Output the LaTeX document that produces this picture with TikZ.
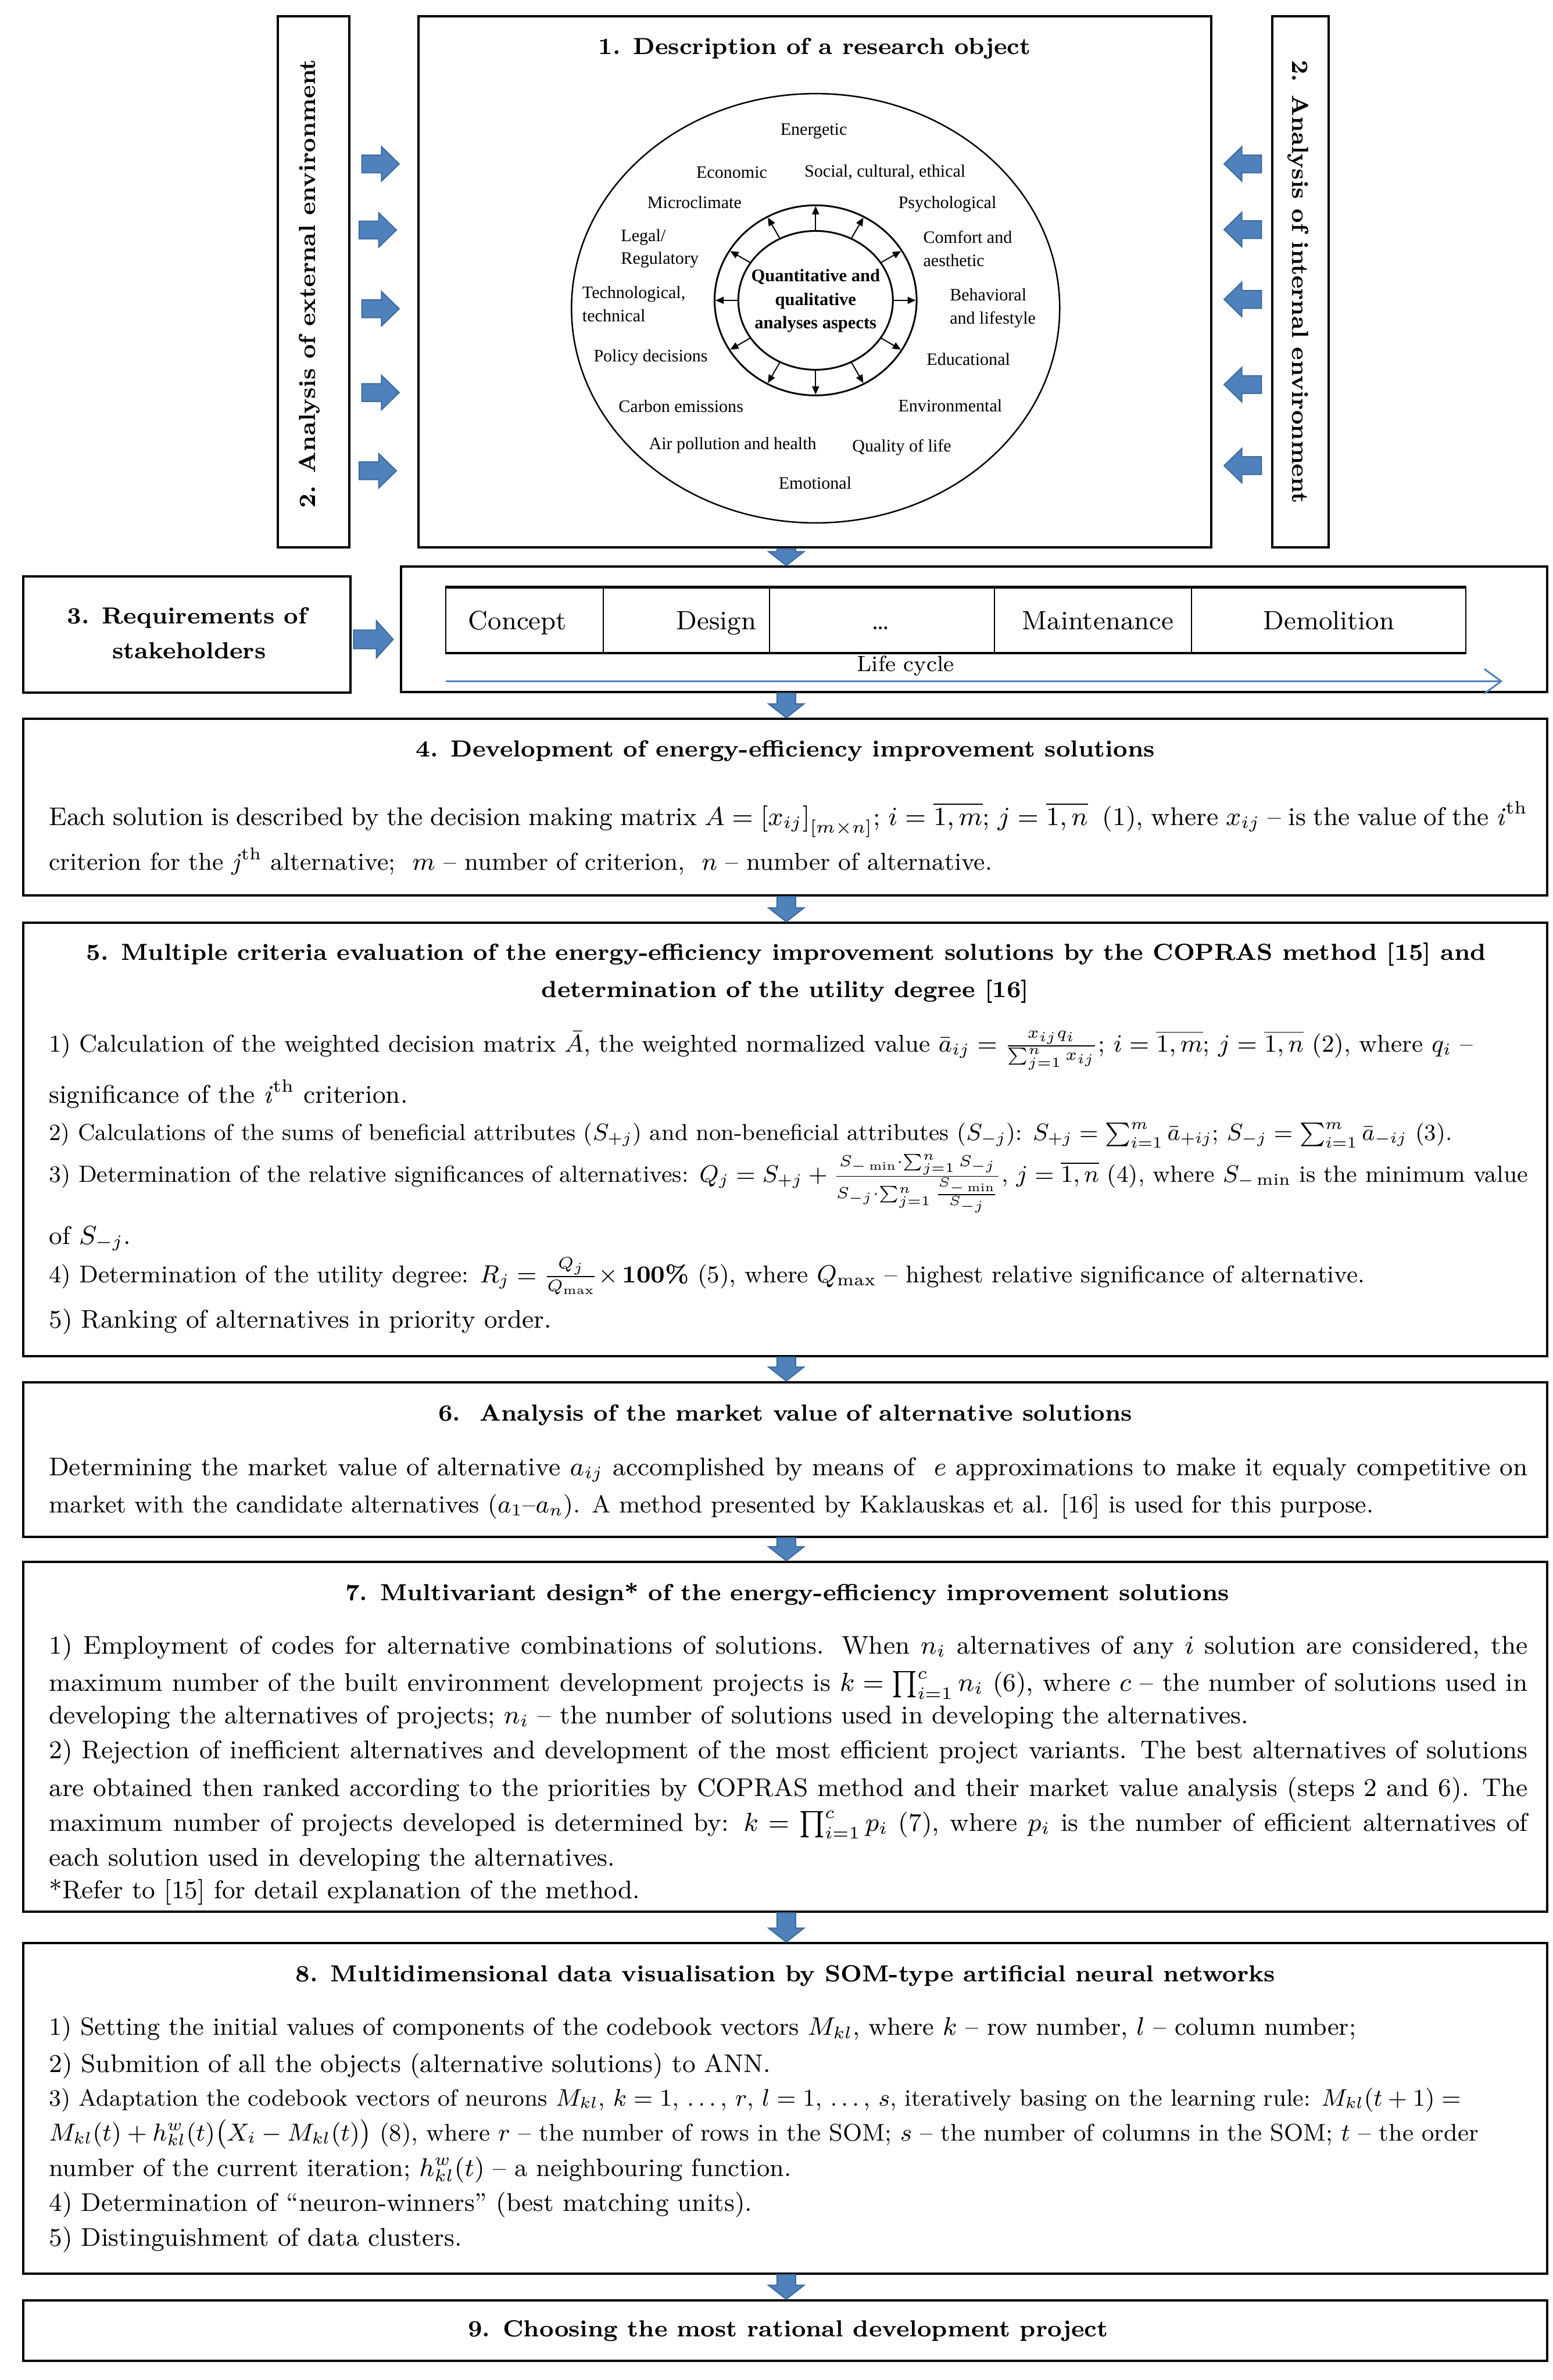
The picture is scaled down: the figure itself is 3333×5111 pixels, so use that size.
\documentclass[tikz,border=0pt]{standalone}
\usepackage{amsmath}
\usepackage{graphicx}
\usepackage{fontspec}
\newfontfamily\tnr{Liberation Serif}
\usetikzlibrary{arrows.meta,fit,calc,shapes.geometric}
\definecolor{ablue}{HTML}{4F81BD}
\definecolor{ablued}{HTML}{3C6A9E}
\newcommand\bodyf{\fontsize{8.8}{10.5}\selectfont}
\newcommand\titf{\fontsize{8}{10}\selectfont\bfseries}
\newcommand\lblf{\tnr\fontsize{6}{7.9}\selectfont}
\newcommand\jl[1]{\makebox[508pt][s]{#1}}
\newcommand\fitw[2]{\resizebox{#1}{!}{#2}}
\newcommand\blkR[3]{\filldraw[blk] (#1,#3-19) -- (#2-38,#3-19) -- (#2-38,#3-37) -- (#2,#3) -- (#2-38,#3+37) -- (#2-38,#3+19) -- (#1,#3+19) -- cycle;}
\newcommand\blkL[3]{\filldraw[blk] (#1,#3-19) -- (#2+38,#3-19) -- (#2+38,#3-37) -- (#2,#3) -- (#2+38,#3+37) -- (#2+38,#3+19) -- (#1,#3+19) -- cycle;}
\newcommand\blkD[2]{\filldraw[blk] let \p1=(colx |- #1.south), \p2=(colx |- #2.north) in (\x1-3.2pt,\y1) -- (\x1-3.2pt,\y2+4.8pt) -- (\x1-6.1pt,\y2+4.8pt) -- (\x2,\y2) -- (\x1+6.1pt,\y2+4.8pt) -- (\x1+3.2pt,\y2+4.8pt) -- (\x1+3.2pt,\y1) -- cycle;}
\begin{document}
\begin{tikzpicture}[x=0.16pt,y=-0.16pt,
  box/.style={draw, line width=0.8pt, inner sep=0pt},
  cellb/.style={draw, line width=0.4pt, inner sep=0pt},
  blk/.style={fill=ablue, draw=ablued, line width=0.4pt},
  tl/.style={anchor=base west, inner sep=0pt, font=\bodyf},
  tt/.style={anchor=base, inner sep=0pt, font=\titf},
  vt/.style={inner sep=0pt, font=\titf},
  lbl/.style={inner sep=0pt, font=\lblf},
  lbll/.style={inner sep=0pt, font=\lblf, align=left, anchor=west},
  lcf/.style={anchor=base, inner sep=0pt, font=\fontsize{9.1}{11}\selectfont}]
\useasboundingbox (0,0) rectangle (3333,5111);
\fill[white] (0,0) rectangle (3333,5111);
\coordinate (colx) at (1688,0);

% ---------- top section ----------
\node[box, fit={(597,35) (750,1176)}] (ext) {};
\node[box, fit={(898,35) (2600,1176)}] (b1) {};
\node[box, fit={(2732,35) (2853,1176)}] (int) {};
\node[vt, rotate=90] (vte) at (665,609) {2. Analysis of external environment};
\node[vt, rotate=-90] (vti) at (2787,605) {2. Analysis of internal environment};
\node[tt] (t1) at (1749,117) {1. Description of a research object};

\blkR{777}{857}{352}
\blkR{771}{851}{494}
\blkR{777}{857}{663}
\blkR{777}{857}{843}
\blkR{771}{851}{1011}
\blkL{2708}{2628}{352}
\blkL{2708}{2628}{493}
\blkL{2708}{2628}{643}
\blkL{2708}{2628}{826}
\blkL{2708}{2628}{1000}

% circle diagram
\node[ellipse, draw, line width=0.5pt, minimum width=167.7pt, minimum height=147.5pt, inner sep=0pt] (big) at (1751,662) {};
\node[ellipse, draw, line width=0.6pt, minimum width=69.4pt, minimum height=65.3pt, inner sep=0pt] (ann) at (1751,645) {};
\node[ellipse, draw, line width=0.6pt, minimum width=53.1pt, minimum height=47.7pt, inner sep=0pt] (inn) at (1751,645) {};
\foreach \a in {0,30,...,330}
  \draw[line width=0.4pt, shorten >=0.6pt, -{Triangle[length=2.8pt 0 0, width=2.4pt 0 0]}] (inn.\a) -- (ann.\a);
\node[inner sep=0pt, align=center, font=\tnr\fontsize{6.1}{8}\selectfont\bfseries] (ctr) at (1751,646) {Quantitative and\\qualitative\\analyses aspects};
\node[lbl] (e1) at (1747,282) {Energetic};
\node[lbl] (e2) at (1571,370) {Economic};
\node[lbl] (e3) at (1900,370) {Social, cultural, ethical};
\node[lbl] (e4) at (1491,434) {Microclimate};
\node[lbl] (e5) at (2034,439) {Psychological};
\node[lbll] (e6) at (1332,534) {Legal/\\Regulatory};
\node[lbll] (e7) at (1981,534) {Comfort and\\aesthetic};
\node[lbll] (e8) at (1249,653) {Technological,\\technical};
\node[lbll] (e9) at (2038,662) {Behavioral\\and lifestyle};
\node[lbl] (e10) at (1397,768) {Policy decisions};
\node[lbl] (e11) at (2079,771) {Educational};
\node[lbl] (e12) at (1462,873) {Carbon emissions};
\node[lbl] (e13) at (2040,871) {Environmental};
\node[lbl] (e14) at (1573,956) {Air pollution and health};
\node[lbl] (e15) at (1936,961) {Quality of life};
\node[lbl] (e16) at (1750,1037) {Emotional};

% ---------- stakeholders / life cycle ----------
\node[box, fit={(50,1238) (752,1487)}] (b3) {};
\node[tt] (t3a) at (402,1339) {3. Requirements of};
\node[tt] (t3b) at (406,1415) {stakeholders};
\node[box, fit={(861,1217) (3322,1486)}] (lc) {};
\filldraw[blk] (759,1353) -- (808,1353) -- (808,1333) -- (844,1373) -- (808,1413) -- (808,1393) -- (759,1393) -- cycle;

\node[cellb, fit={(957,1262) (1295,1401)}] (c1) {};
\node[cellb, fit={(1295,1262) (1652,1401)}] (c2) {};
\node[cellb, fit={(1652,1262) (2135,1401)}] (c3) {};
\node[cellb, fit={(2135,1262) (2558,1401)}] (c4) {};
\node[cellb, fit={(2558,1262) (3147,1401)}] (c5) {};
\draw[line width=0.9pt] (c1.north west) -- (c5.north east);
\draw[line width=0.9pt] (c1.south west) -- (c5.south east);
\node[lcf] (p1) at (1111,1352) {Concept};
\node[lcf] (p2) at (1538,1352) {Design};
\node[lcf] (p3) at (1891,1352) {\dots};
\node[lcf] (p4) at (2357,1352) {Maintenance};
\node[lcf] (p5) at (2853,1352) {Demolition};
\node[anchor=base, inner sep=0pt, font=\fontsize{7.6}{9}\selectfont] (lct) at (1944,1442) {Life cycle};
\coordinate (lcs) at (957,1463);
\coordinate (lce) at (3226,1463);
\draw[ablue, line width=0.6pt, -{Straight Barb[length=5.8pt 0 0, width=8.5pt 0 0]}] (lcs) -- (lce);

% ---------- box 4 ----------
\node[box, fit={(50,1544) (3322,1923)}] (b4) {};
\node[tt] (t4) at (1686,1625) {4. Development of energy-efficiency improvement solutions};
\node[tl] (l4a) at (104,1772) {\jl{Each solution is described by the decision making matrix $A=\left[x_{ij}\right]_{[m\times n]}$; $i=\overline{1,m}$; $j=\overline{1,n}$\ \ (1), where $x_{ij}$ – is the value of the \textit{i}\textsuperscript{th}}};
\node[tl] (l4b) at (104,1869) {\fitw{324pt}{criterion for the \textit{j}\textsuperscript{th} alternative; \ $m$ – number of criterion, \ $n$ – number of alternative.}};

% ---------- box 5 ----------
\node[box, fit={(50,1982) (3322,2912)}] (b5) {};
\node[tt] (t5a) at (1688,2062) {5. Multiple criteria evaluation of the energy-efficiency improvement solutions by the COPRAS method [15] and};
\node[tt] (t5b) at (1686,2142) {determination of the utility degree [16]};
\node[tl] (l5a) at (104,2259) {\fitw{489pt}{1) Calculation of the weighted decision matrix $\bar{A}$, the weighted normalized value $\bar{a}_{ij}=\frac{x_{ij}q_i}{\sum_{j=1}^{n}x_{ij}}$; $i=\overline{1,m}$; $j=\overline{1,n}$ (2), where $q_i$ –}};
\node[tl] (l5b) at (104,2369) {significance of the \textit{i}\textsuperscript{th} criterion.};
\node[tl] (l5c) at (104,2449) {\fitw{482pt}{2) Calculations of the sums of beneficial attributes ($S_{+j}$) and non-beneficial attributes ($S_{-j}$): $S_{+j}=\sum_{i=1}^{m}\bar{a}_{+ij}$; $S_{-j}=\sum_{i=1}^{m}\bar{a}_{-ij}$ (3).}};
\node[tl] (l5d) at (104,2539) {\fitw{508pt}{3) Determination of the relative significances of alternatives: $Q_j=S_{+j}+\frac{S_{-\min}\cdot\sum_{j=1}^{n}S_{-j}}{S_{-j}\cdot\sum_{j=1}^{n}\frac{S_{-\min}}{S_{-j}}}$, $j=\overline{1,n}$ (4), where $S_{-\min}$ is the minimum value}};
\node[tl] (l5e) at (104,2672) {of $S_{-j}$.};
\node[tl] (l5f) at (104,2755) {\fitw{452pt}{4) Determination of the utility degree: $R_j=\frac{Q_j}{Q_{\max}}\times$\,\textbf{100\%} (5), where $Q_{\max}$ – highest relative significance of alternative.}};
\node[tl] (l5g) at (104,2852) {5) Ranking of alternatives in priority order.};

% ---------- box 6 ----------
\node[box, fit={(50,2968) (3322,3300)}] (b6) {};
\node[tt] (t6) at (1686,3052) {6.\ \ Analysis of the market value of alternative solutions};
\node[tl] (l6a) at (104,3169) {\jl{Determining the market value of alternative $a_{ij}$ accomplished by means of \ $e$ approximations to make it equaly competitive on}};
\node[tl] (l6b) at (104,3249) {\fitw{455pt}{market with the candidate alternatives ($a_1$–$a_n$). A method presented by Kaklauskas et al. [16] is used for this purpose.}};

% ---------- box 7 ----------
\node[box, fit={(50,3354) (3322,4105)}] (b7) {};
\node[tt] (t7) at (1690,3437) {7. Multivariant design* of the energy-efficiency improvement solutions};
\node[tl] (l7a) at (104,3552) {\jl{1) Employment of codes for alternative combinations of solutions. When $n_i$ alternatives of any $i$ solution are considered, the}};
\node[tl] (l7b) at (104,3632) {\jl{maximum number of the built environment development projects is $k=\prod_{i=1}^{c}n_i$ (6), where $c$ – the number of solutions used in}};
\node[tl] (l7c) at (104,3702) {developing the alternatives of projects; $n_i$ – the number of solutions used in developing the alternatives.};
\node[tl] (l7d) at (104,3777) {\jl{2) Rejection of inefficient alternatives and development of the most efficient project variants. The best alternatives of solutions}};
\node[tl] (l7e) at (104,3857) {\jl{are obtained then ranked according to the priorities by COPRAS method and their market value analysis (steps 2 and 6). The}};
\node[tl] (l7f) at (104,3932) {\jl{maximum number of projects developed is determined by: $k=\prod_{i=1}^{c}p_i$ (7), where $p_i$ is the number of efficient alternatives of}};
\node[tl] (l7g) at (104,4007) {each solution used in developing the alternatives.};
\node[tl] (l7h) at (104,4077) {*Refer to [15] for detail explanation of the method.};

% ---------- box 8 ----------
\node[box, fit={(50,4173) (3322,4882)}] (b8) {};
\node[tt] (t8) at (1686,4255) {8. Multidimensional data visualisation by SOM-type artificial neural networks};
\node[tl] (l8a) at (104,4371) {\fitw{449pt}{1) Setting the initial values of components of the codebook vectors $M_{kl}$, where $k$ – row number, $l$ – column number;}};
\node[tl] (l8b) at (104,4450) {2) Submition of all the objects (alternative solutions) to ANN.};
\node[tl] (l8c) at (104,4522) {\fitw{485pt}{3) Adaptation the codebook vectors of neurons $M_{kl}$, $k=1,\,\ldots,\,r$, $l=1,\,\ldots,\,s$, iteratively basing on the learning rule: $M_{kl}(t+1)=$}};
\node[tl] (l8d) at (104,4597) {\fitw{491pt}{$M_{kl}(t)+h_{kl}^{w}(t)\bigl(X_i-M_{kl}(t)\bigr)$ (8), where $r$ – the number of rows in the SOM; $s$ – the number of columns in the SOM; $t$ – the order}};
\node[tl] (l8e) at (104,4673) {\fitw{255pt}{number of the current iteration; $h_{kl}^{w}(t)$ – a neighbouring function.}};
\node[tl] (l8f) at (104,4748) {4) Determination of “neuron-winners” (best matching units).};
\node[tl] (l8g) at (104,4823) {5) Distinguishment of data clusters.};

% ---------- box 9 ----------
\node[box, fit={(50,4940) (3322,5070)}] (b9) {};
\node[tt] (t9) at (1692,5018) {9. Choosing the most rational development project};

% ---------- down arrows ----------
\blkD{b1}{lc}
\blkD{lc}{b4}
\blkD{b4}{b5}
\blkD{b5}{b6}
\blkD{b6}{b7}
\blkD{b7}{b8}
\blkD{b8}{b9}
\end{tikzpicture}
\end{document}
